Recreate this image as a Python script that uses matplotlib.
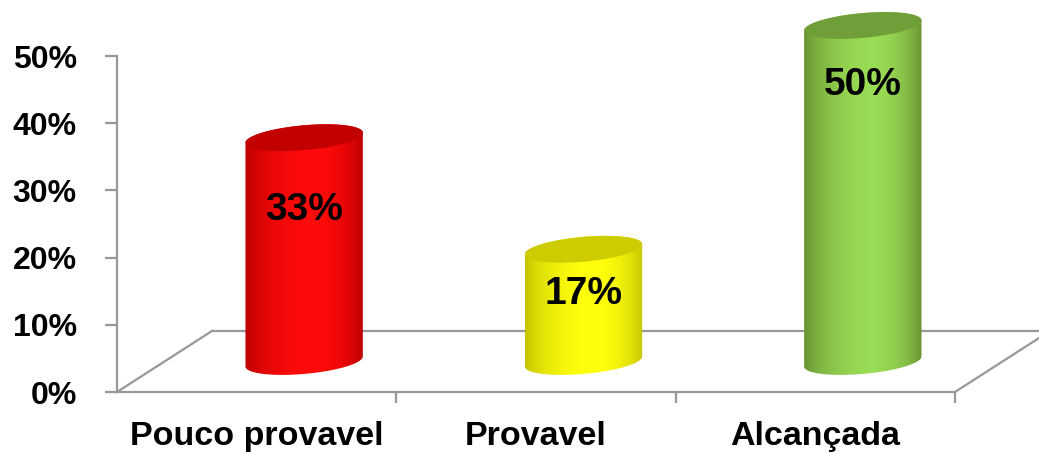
import numpy as np
import matplotlib
matplotlib.use("Agg")
import matplotlib.pyplot as plt
from matplotlib.patches import Polygon

# ---- data ----
categories = ["Pouco provavel", "Provavel", "Alcançada"]
values = [33.3, 16.7, 50.0]
value_labels = ["33%", "17%", "50%"]
yticks = [0, 10, 20, 30, 40, 50]
ytick_labels = ["0%", "10%", "20%", "30%", "40%", "50%"]

# ---- style ----
bright = [(1.0, 0.04, 0.04), (1.0, 1.0, 0.05), (0.60, 0.86, 0.33)]
dark = [(0.72, 0.0, 0.0), (0.76, 0.76, 0.0), (0.40, 0.56, 0.19)]
topc = [(0.76, 0.0, 0.0), (0.80, 0.80, 0.0), (0.44, 0.62, 0.22)]
label_drop = [10.7, 6.7, 8.9]  # label offset below cylinder top (data units)
gray = "#989898"
font = "Liberation Sans"

W, H = 1039, 454
fig = plt.figure(figsize=(W / 100, H / 100), dpi=100)
fig.patch.set_facecolor("white")
ax = fig.add_axes([117 / W, 62 / H, 838 / W, 336 / H])
ax.set_facecolor("none")

xmin, xmax = -0.5, 2.5
ymin, ymax = 0, 50
depth_dx, depth_dy = 0.34, 9.08
half_w = 0.21
eb, es = 1.85, 0.75

# floor
floor_kw = dict(color=gray, lw=1.6, clip_on=False, zorder=1)
ax.plot([xmin + depth_dx, xmax + depth_dx], [depth_dy, depth_dy], **floor_kw)
ax.plot([xmin, xmin + depth_dx], [0, depth_dy], **floor_kw)
ax.plot([xmax, xmax + depth_dx], [0, depth_dy], **floor_kw)


def ell(cx, cy, t):
    return np.column_stack([cx + half_w * np.cos(t), cy + eb * np.sin(t) + es * np.cos(t)])


u = np.linspace(0, 1, 200)
peak = 0.58
uu = np.where(u < peak, u / peak * 0.5, 0.5 + (u - peak) / (1 - peak) * 0.5)
wgt = np.sin(np.pi * uu) ** 0.7

for i, v in enumerate(values):
    cx = i + depth_dx / 2
    by = depth_dy / 2
    ty = v + depth_dy / 2
    t_front = np.linspace(np.pi, 2 * np.pi, 80)
    t_back = np.linspace(0, np.pi, 80)
    body = np.vstack([ell(cx, by, t_front), ell(cx, ty, t_back)])
    clip = Polygon(body, closed=True, transform=ax.transData, facecolor="none",
                   edgecolor="none", clip_on=False)
    ax.add_patch(clip)
    grad = np.zeros((1, len(u), 3))
    for k in range(3):
        grad[0, :, k] = dark[i][k] + (bright[i][k] - dark[i][k]) * wgt
    im = ax.imshow(grad, extent=[cx - half_w, cx + half_w, by - 3, ty + 3],
                   aspect="auto", origin="lower", zorder=3, interpolation="bilinear")
    im.set_clip_path(clip)
    im.set_clip_box(fig.bbox)
    top = ell(cx, ty, np.linspace(0, 2 * np.pi, 160))
    ax.add_patch(Polygon(top, closed=True, facecolor=topc[i], edgecolor="none",
                         zorder=4, clip_on=False))
    ax.text(cx, ty - label_drop[i], value_labels[i], ha="center", va="center",
            fontsize=28, fontweight="bold", family=font, color="black", zorder=5)

ax.set_xlim(xmin, xmax)
ax.set_ylim(ymin, ymax)

for sp in ["top", "right"]:
    ax.spines[sp].set_visible(False)
for sp in ["left", "bottom"]:
    ax.spines[sp].set_color(gray)
    ax.spines[sp].set_linewidth(1.6)

ax.set_yticks(yticks)
ax.set_yticklabels(ytick_labels, fontsize=23, fontweight="bold", family=font)
ax.tick_params(axis="y", direction="out", length=9, width=1.6, color=gray, pad=20)

ax.set_xticks([0.5, 1.5, 2.5])
ax.set_xticklabels([])
ax.set_xticks(range(len(categories)), minor=True)
ax.set_xticklabels(categories, minor=True, fontsize=24.5, fontweight="bold", family=font)
ax.tick_params(axis="x", which="major", direction="out", length=8, width=1.6, color=gray)
ax.tick_params(axis="x", which="minor", length=0, pad=21)

fig.savefig("out.png", dpi=100, facecolor="white")
